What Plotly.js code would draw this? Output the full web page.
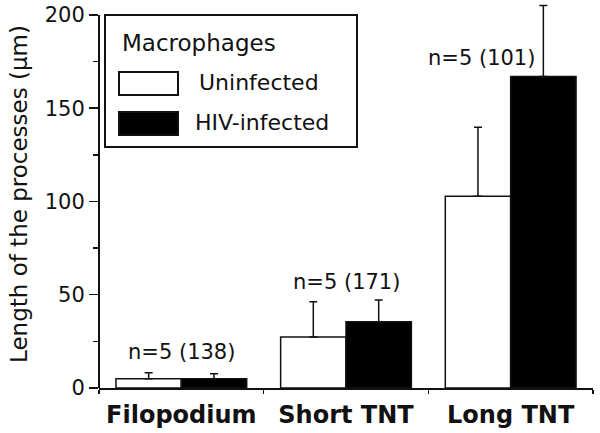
<!DOCTYPE html>
<html>
<head>
<meta charset="utf-8">
<script src="https://cdn.plot.ly/plotly-3.0.1.min.js"></script>
<style>html,body{margin:0;padding:0;background:#fff;}#chart{width:600px;height:433px;}</style>
</head>
<body>
<div id="chart"></div>
<script>
// ---- data ----
const categories = ['Filopodium', 'Short TNT', 'Long TNT'];
const uninfected = [5, 27.3, 102.8];
const uninfectedErr = [3.2, 19, 37];
const hivInfected = [5, 35.5, 167];
const hivInfectedErr = [2.7, 11.7, 38];
const nLabels = ['n=5 (138)', 'n=5 (171)', 'n=5 (101)'];
const nLabelY = [19.3, 57, 177];
const yTicks = [0, 50, 100, 150, 200];
const yAxisMax = 200;
const legendTitle = 'Macrophages';
const seriesNames = ['Uninfected', 'HIV-infected'];

// ---- layout helpers (pixel -> paper) ----
const YTOP = 208;                    // headroom so the tallest error bar is not clipped
const L = 99, R = 593, B = 388;
const PXU = (388 - 15) / 200;        // pixels per data unit
const T = B - YTOP * PXU;
const px = x => (x - L) / (R - L);
const py = y => (B - y) / (B - T);
const FONT = 'DejaVu Sans, Arial, sans-serif';
const INK = '#111';

const errStyle = {type: 'data', symmetric: false, color: INK, thickness: 1.5, width: 4};

const traces = [
  {
    type: 'bar', name: seriesNames[0], x: categories, y: uninfected,
    marker: {color: '#ffffff', line: {color: INK, width: 1.5}},
    error_y: Object.assign({array: uninfectedErr, arrayminus: uninfected.map(() => 0)}, errStyle),
    cliponaxis: false, hoverinfo: 'none'
  },
  {
    type: 'bar', name: seriesNames[1], x: categories, y: hivInfected,
    marker: {color: '#000000', line: {color: INK, width: 1.5}},
    error_y: Object.assign({array: hivInfectedErr, arrayminus: hivInfected.map(() => 0)}, errStyle),
    cliponaxis: false, hoverinfo: 'none'
  }
];

const annotations = categories.map((c, i) => ({
  x: c, y: nLabelY[i], xref: 'x', yref: 'y', text: nLabels[i], showarrow: false,
  xshift: i === 2 ? -29 : 0,
  font: {family: FONT, size: 21, color: INK}, xanchor: 'center', yanchor: 'middle'
}));

// manual legend
annotations.push({
  x: px(120), y: py(43), xref: 'paper', yref: 'paper', text: legendTitle, showarrow: false,
  xanchor: 'left', yanchor: 'middle', font: {family: FONT, size: 23, color: INK}
});
annotations.push({
  x: px(197), y: py(83), xref: 'paper', yref: 'paper', text: seriesNames[0], showarrow: false,
  xanchor: 'left', yanchor: 'middle', font: {family: FONT, size: 22, color: INK}
});
annotations.push({
  x: px(193), y: py(123), xref: 'paper', yref: 'paper', text: seriesNames[1], showarrow: false,
  xanchor: 'left', yanchor: 'middle', font: {family: FONT, size: 22, color: INK}
});

const shapes = [
  // y axis line (0..200 only)
  {type: 'line', xref: 'paper', yref: 'y', x0: 0, x1: 0, y0: 0, y1: yAxisMax,
   line: {color: INK, width: 2}, layer: 'above'},
  // legend box and swatches
  {type: 'rect', xref: 'paper', yref: 'paper', x0: px(105), x1: px(357), y0: py(147), y1: py(15),
   line: {color: INK, width: 2}, fillcolor: 'rgba(255,255,255,1)', layer: 'above'},
  {type: 'rect', xref: 'paper', yref: 'paper', x0: px(119), x1: px(178), y0: py(95), y1: py(72),
   line: {color: INK, width: 2}, fillcolor: '#ffffff', layer: 'above'},
  {type: 'rect', xref: 'paper', yref: 'paper', x0: px(119), x1: px(178), y0: py(135), y1: py(112),
   line: {color: INK, width: 2}, fillcolor: '#000000', layer: 'above'}
];

const layout = {
  width: 600, height: 433,
  margin: {l: L, r: 600 - R, t: T, b: 433 - B, pad: 0},
  paper_bgcolor: '#fff', plot_bgcolor: '#fff',
  showlegend: false,
  barmode: 'group', bargap: 0.206, bargroupgap: 0,
  font: {family: FONT, color: INK},
  xaxis: {
    type: 'category', showline: true, linecolor: INK, linewidth: 2,
    ticks: 'outside', tickson: 'boundaries', ticklen: 4, tickwidth: 1.5, tickcolor: INK,
    tickangle: 0,
    tickfont: {family: FONT, size: 24, color: INK, weight: 'bold'},
    showgrid: false, zeroline: false, fixedrange: true, ticklabelstandoff: 4
  },
  yaxis: {
    range: [0, YTOP], showline: false,
    tickvals: yTicks, ticks: 'outside', ticklen: 9, tickwidth: 1.5, tickcolor: INK,
    minor: {tickvals: [25, 75, 125, 175], ticklen: 5, tickwidth: 1.5, tickcolor: INK, ticks: 'outside', showgrid: false},
    tickfont: {family: FONT, size: 21, color: INK},
    showgrid: false, zeroline: false, fixedrange: true,
    title: {text: 'Length of the processes (\u03bcm)', font: {family: FONT, size: 23, color: INK}, standoff: 10}
  },
  annotations: annotations,
  shapes: shapes
};

Plotly.newPlot('chart', traces, layout, {staticPlot: true, displayModeBar: false});
</script>
</body>
</html>
